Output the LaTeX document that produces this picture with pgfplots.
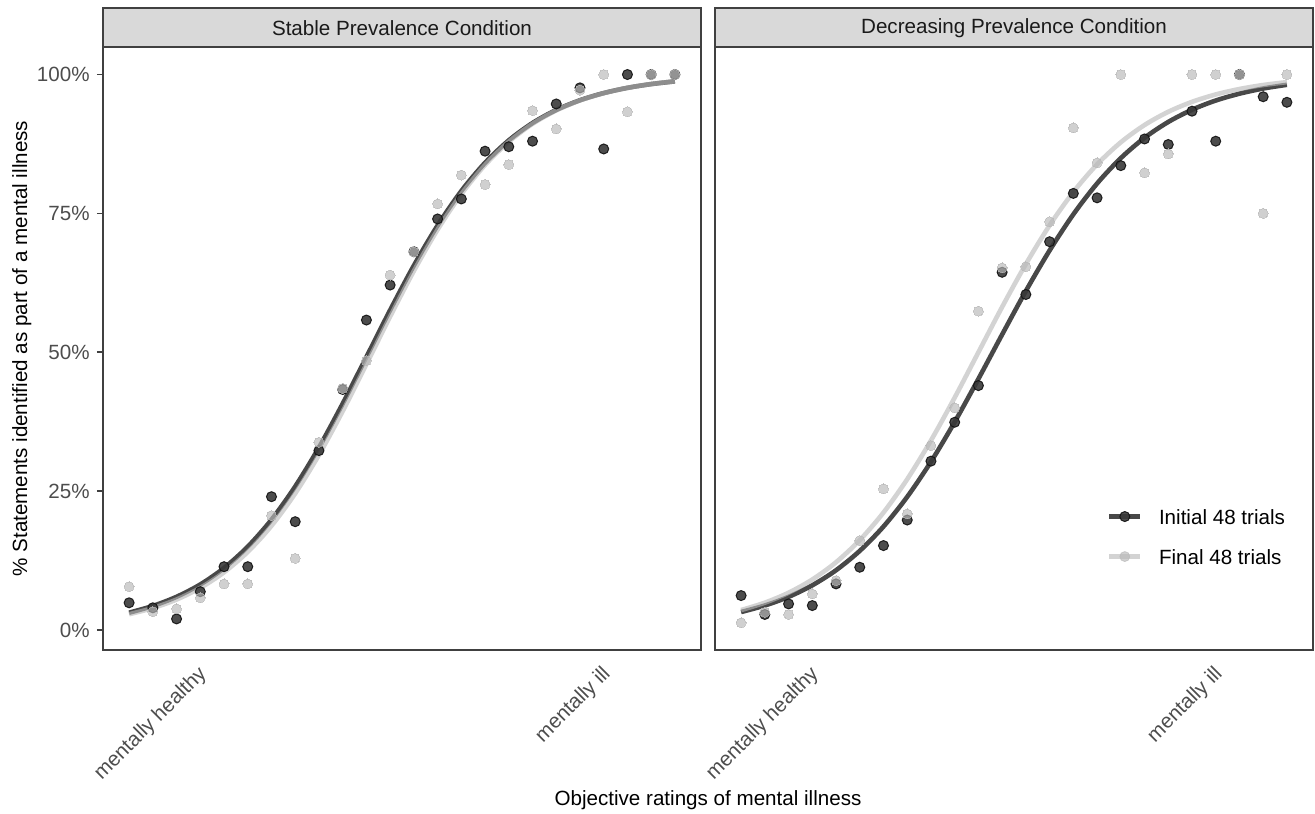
\documentclass[border=0pt]{standalone}
\usepackage{fontspec}
\setmainfont{Liberation Sans}
\usepackage{pgfplots}
\usepackage{pgfplotstable}
\pgfplotsset{compat=1.18}
\definecolor{darkpt}{HTML}{383838}
\definecolor{darkedge}{HTML}{111111}
\definecolor{darkline}{HTML}{484848}
\definecolor{lightc}{HTML}{B8B8B8}
\definecolor{stripfill}{HTML}{D9D9D9}
\definecolor{framec}{HTML}{404040}
\definecolor{ticklab}{HTML}{4D4D4D}
\definecolor{striptext}{HTML}{1A1A1A}
\newcommand{\fs}{\fontsize{10.3}{12}\selectfont}

% Stable condition: observed proportions (%), index = rating position
\pgfplotstableread{
x init final
1 4.9 7.8
2 4.0 3.3
3 2.0 3.8
4 6.9 5.8
5 11.4 8.3
6 11.4 8.3
7 24.0 20.6
8 19.5 12.9
9 32.3 33.8
10 43.3 43.5
11 55.8 48.5
12 62.1 63.9
13 68.1 68.1
14 74.0 76.7
15 77.6 81.9
16 86.2 80.2
17 87.0 83.8
18 88.0 93.5
19 94.7 90.2
20 97.6 97.2
21 86.6 100
22 100 93.3
23 100 100
24 100 100
}\stablepts

% Decreasing condition: observed proportions (%)
\pgfplotstableread{
x init final
1 6.2 1.3
2 2.8 3.2
3 4.7 2.8
4 4.4 6.5
5 8.3 8.9
6 11.3 16.1
7 15.2 25.4
8 19.8 20.9
9 30.4 33.2
10 37.4 40.0
11 44.0 57.4
12 64.4 65.2
13 60.4 65.4
14 69.9 73.5
15 78.6 90.4
16 77.8 84.1
17 83.6 100
18 88.4 82.3
19 87.4 85.7
20 93.4 100
21 88.0 100
22 100 100
23 96.0 75.0
24 95.0 100
}\decpts

% Fitted curves (%)
\pgfplotstableread{
x init final
1 3.12 2.84
2 4.33 3.95
3 5.98 5.49
4 8.20 7.59
5 11.16 10.39
6 15.00 14.06
7 19.86 18.76
8 25.84 24.59
9 32.86 31.52
10 40.75 39.39
11 49.15 47.85
12 57.59 56.43
13 65.61 64.64
14 72.83 72.08
15 79.03 78.47
16 84.11 83.72
17 88.15 87.90
18 91.27 91.12
19 93.62 93.54
20 95.37 95.34
21 96.66 96.65
22 97.60 97.60
23 98.28 98.29
24 98.77 98.78
}\stablefit

\pgfplotstableread{
x init final
1 3.24 3.59
2 4.41 4.92
3 5.97 6.71
4 8.05 9.09
5 10.76 12.20
6 14.25 16.18
7 18.63 21.15
8 23.98 27.15
9 30.29 34.12
10 37.45 41.84
11 45.21 50.00
12 53.20 58.16
13 61.04 65.88
14 68.33 72.85
15 74.83 78.85
16 80.38 83.82
17 84.95 87.80
18 88.61 90.91
19 91.46 93.29
20 93.66 95.08
21 95.32 96.41
22 96.55 97.39
23 97.48 98.11
24 98.15 98.63
}\decfit

\pgfplotsset{
  panel/.style={
    scale only axis, width=299pt, height=301.35pt,
    xmin=-0.1, xmax=25.1, ymin=-3.6, ymax=104.9,
    axis line style={draw=framec, line width=0.8pt},
    xtick={4.14,21.16},
    xticklabels={mentally healthy, mentally ill},
    x tick style={draw=none},
    major tick length=3pt, tick align=outside,
    ytick pos=left,
    y tick style={draw=framec, line width=0.8pt},
    tick label style={font=\fs, text=ticklab},
    xticklabel style={xshift=-3.5pt, yshift=-4pt, rotate=45, anchor=north east, inner sep=0pt},
    yticklabel style={anchor=east, inner sep=0pt, xshift=-3.5pt},
  },
  initline/.style={darkline, line width=2.3pt, smooth, no markers, forget plot},
  finalline/.style={lightc, opacity=0.62, line width=2.3pt, smooth, no markers, forget plot},
  initpts/.style={only marks, mark=*, mark size=2.5pt, forget plot,
    mark options={fill=darkpt, draw=darkedge, line width=0.5pt, opacity=0.9}},
  finalpts/.style={only marks, mark=*, mark size=2.5pt, forget plot,
    mark options={fill=lightc, draw=lightc, line width=0pt, opacity=0.66}},
}

\begin{document}
\begin{tikzpicture}
\useasboundingbox (0,0) rectangle (657.5pt,-406.5pt);

\begin{axis}[panel, at={(51.5pt,-325pt)}, anchor=south west,
  ytick={0,25,50,75,100},
  yticklabels={0\%,25\%,50\%,75\%,100\%}]
  \addplot[initline] table[x=x, y=init] {\stablefit};
  \addplot[finalline] table[x=x, y=final] {\stablefit};
  \addplot[initpts] table[x=x, y=init] {\stablepts};
  \addplot[finalpts] table[x=x, y=final] {\stablepts};
\end{axis}

\begin{axis}[panel, at={(357.5pt,-325pt)}, anchor=south west,
  ytick=\empty,
  legend style={at={(rel axis cs:0.6555,0.18825)}, anchor=west,
    draw=none, fill=none, inner sep=0pt, outer sep=0pt, row sep=12.5pt,
    font=\fs, nodes={inner sep=0pt, text height=7.5pt, text depth=0pt}},
  legend cell align=left,
  legend entries={Initial 48 trials, Final 48 trials}]
  \addlegendimage{legend image code/.code={
    \path[draw=none, fill=none] (0pt,-2.5pt) rectangle (24.85pt,2.5pt);
    \draw[darkline, line width=2.3pt] (0pt,0pt) -- (15.5pt,0pt);
    \fill[darkpt, draw=darkedge, line width=0.5pt, opacity=0.9] (7.75pt,0pt) circle (2.5pt);}}
  \addlegendimage{legend image code/.code={
    \path[draw=none, fill=none] (0pt,-2.5pt) rectangle (24.85pt,2.5pt);
    \draw[lightc, opacity=0.62, line width=2.3pt] (0pt,0pt) -- (15.5pt,0pt);
    \fill[lightc, opacity=0.66] (7.75pt,0pt) circle (2.5pt);}}
  \addplot[initline] table[x=x, y=init] {\decfit};
  \addplot[finalline] table[x=x, y=final] {\decfit};
  \addplot[initpts] table[x=x, y=init] {\decpts};
  \addplot[finalpts] table[x=x, y=final] {\decpts};
\end{axis}

% facet strips
\draw[fill=stripfill, draw=framec, line width=0.8pt] (51.5pt,-4.15pt) rectangle (350.5pt,-23.65pt);
\draw[fill=stripfill, draw=framec, line width=0.8pt] (357.5pt,-4.15pt) rectangle (656.5pt,-23.65pt);
\node[font=\fs, text=striptext] at (201pt,-14.2pt) {Stable Prevalence Condition};
\node[font=\fs, text=striptext] at (507pt,-14.2pt) {Decreasing Prevalence Condition};

% axis titles
\node[font=\fs, anchor=base] at (354pt,-402.5pt) {Objective ratings of mental illness};
\node[font=\fs, rotate=90, anchor=base] at (13.5pt,-174.3pt) {\% Statements identified as part of a mental illness};
\end{tikzpicture}
\end{document}
